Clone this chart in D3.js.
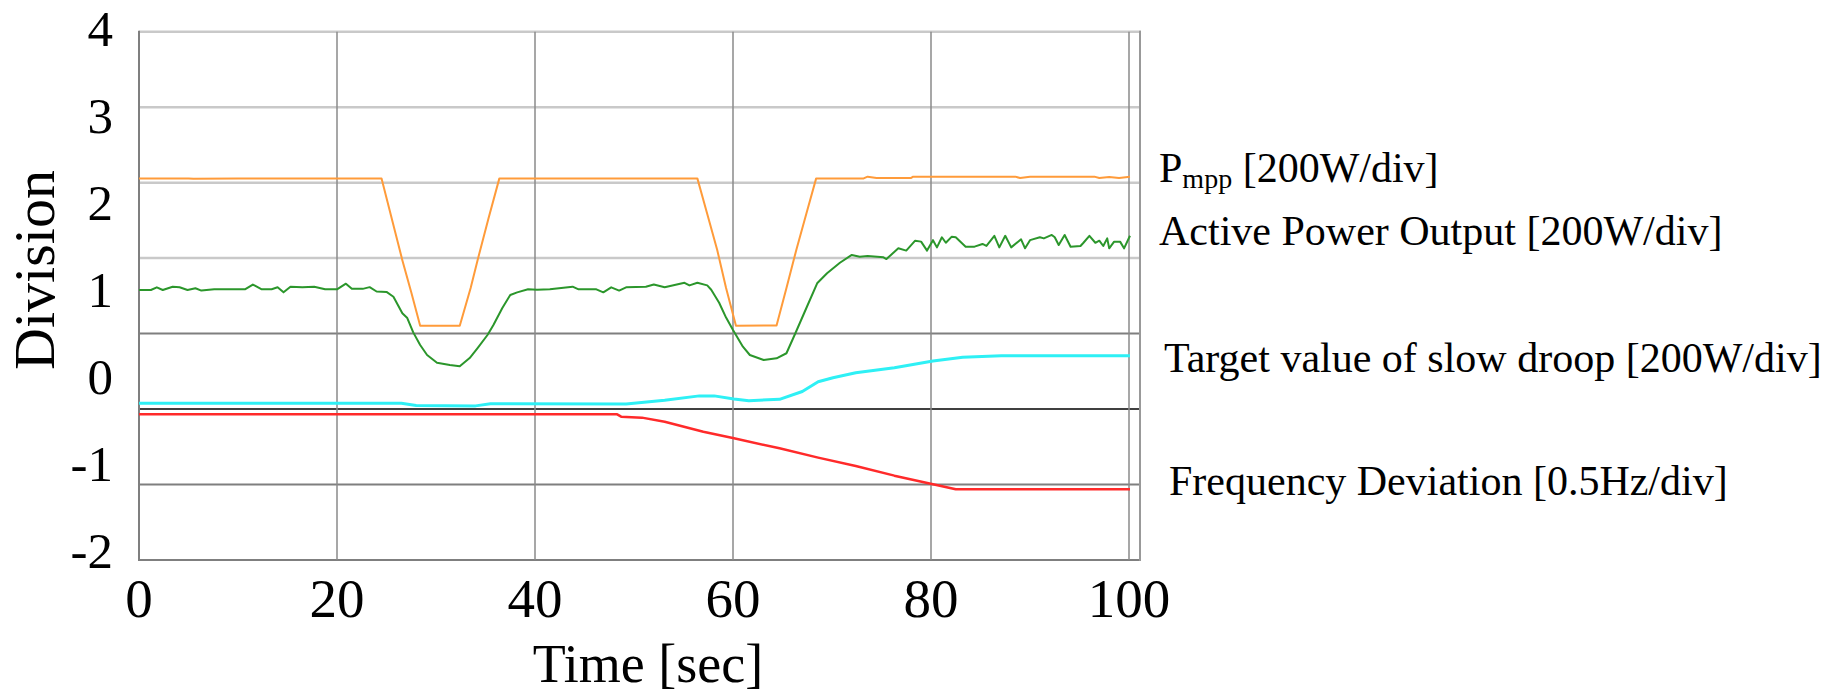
<!DOCTYPE html>
<html>
<head>
<meta charset="utf-8">
<script src="https://cdn.jsdelivr.net/npm/d3@7"></script>
<style>
  body { margin: 0; background: #ffffff; }
  text { font-family: "Liberation Serif", "Times New Roman", serif; fill: #000; }
</style>
</head>
<body>
<div id="chart"></div>
<script>
// time ticks [sec] and division labels
var xTicks = [0, 20, 40, 60, 80, 100];
var yTicks = [4, 3, 2, 1, 0, -1, -2];
var gridDivs = [0, 1, 2, 3, 4, 5, 6, 7];

// [time, division]
var pmpp = [
  [0, 2.26], [5, 2.26], [5.5, 2.255], [10, 2.26], [24.5, 2.26], [26.6, 1.32], [27.5, 0.95],
  [28.4, 0.565], [32.4, 0.565], [33.5, 1.0], [34.2, 1.32], [35.3, 1.8], [36.4, 2.26],
  [56.4, 2.26], [57.4, 1.85], [58.4, 1.44], [59.3, 1.0], [60.3, 0.565], [64.4, 0.57],
  [65.4, 1.0], [66.4, 1.44], [67.4, 1.85], [68.4, 2.26], [73.2, 2.26], [73.6, 2.28],
  [74.5, 2.265], [78, 2.265], [78.2, 2.28], [88.5, 2.28], [89, 2.265], [90, 2.28],
  [96.5, 2.28], [97, 2.265], [98, 2.275], [99, 2.265], [100.1, 2.28]
];

var activePower = [
  [0, 0.977], [1.2, 0.977], [1.8, 1.008], [2.4, 0.977], [3.4, 1.015], [4.1, 1.008], [4.9, 0.977],
  [5.7, 0.997], [6.3, 0.97], [7.6, 0.985], [9.2, 0.985], [10.7, 0.985], [11.5, 1.04], [12.4, 0.985],
  [13.4, 0.985], [14.0, 1.008], [14.6, 0.95], [15.3, 1.015], [16.5, 1.008], [17.7, 1.015],
  [18.8, 0.985], [20.0, 0.985], [20.9, 1.05], [21.5, 0.99], [22.6, 0.99], [23.3, 1.01],
  [24.0, 0.96], [25.0, 0.955], [25.7, 0.9], [26.6, 0.71], [27.1, 0.655], [27.7, 0.49],
  [28.4, 0.345], [29.1, 0.23], [30.1, 0.14], [31.4, 0.115], [32.4, 0.1], [33.4, 0.195],
  [34.2, 0.31], [35.2, 0.46], [35.8, 0.575], [36.7, 0.77], [37.5, 0.92], [38.2, 0.95],
  [39.3, 0.985], [40.2, 0.98], [41.5, 0.985], [43.8, 1.015], [44.4, 0.985], [46.2, 0.985],
  [46.9, 0.95], [47.7, 1.008], [48.5, 0.97], [49.2, 1.008], [51.2, 1.015], [52.0, 1.04],
  [53.1, 1.008], [55.1, 1.06], [55.6, 1.03], [56.4, 1.06], [57.4, 1.03], [57.8, 0.98],
  [58.6, 0.83], [59.3, 0.66], [60.0, 0.517], [61.0, 0.325], [61.7, 0.23], [63.1, 0.172],
  [64.4, 0.192], [65.4, 0.25], [66.3, 0.48], [67.4, 0.767], [68.5, 1.054], [69.5, 1.17],
  [70.8, 1.29], [72.0, 1.38], [72.8, 1.36], [73.6, 1.368], [75.2, 1.353], [75.5, 1.333],
  [76.7, 1.456], [77.5, 1.43], [78.4, 1.544], [79.0, 1.533], [79.6, 1.43], [80.2, 1.55],
  [80.6, 1.467], [81.1, 1.583], [81.5, 1.52], [82.1, 1.59], [82.5, 1.583], [83.5, 1.475],
  [84.4, 1.475], [85.2, 1.506], [85.6, 1.483], [86.4, 1.6], [86.9, 1.467], [87.5, 1.6],
  [88.1, 1.467], [89.1, 1.56], [89.5, 1.456], [90.0, 1.55], [91.0, 1.583], [91.4, 1.57],
  [92.2, 1.61], [92.5, 1.583], [92.9, 1.494], [93.5, 1.61], [94.1, 1.475], [95.1, 1.483],
  [95.4, 1.52], [96.0, 1.6], [96.6, 1.52], [97.0, 1.544], [97.4, 1.483], [97.8, 1.57],
  [98.0, 1.456], [98.5, 1.533], [99.1, 1.533], [99.5, 1.456], [100.1, 1.6]
];

var droopTarget = [
  [0, -0.325], [26.5, -0.325], [28, -0.35], [34, -0.355], [35.5, -0.33], [49.2, -0.333],
  [53.1, -0.29], [56.6, -0.24], [58.1, -0.24], [60.1, -0.276], [61.6, -0.295], [64.7, -0.28],
  [67.0, -0.19], [68.6, -0.077], [70.1, -0.031], [72.4, 0.026], [76.3, 0.084], [80.2, 0.161],
  [83.2, 0.203], [87.1, 0.222], [100.1, 0.222]
];

var freqDeviation = [
  [0, -0.452], [48.3, -0.452], [48.7, -0.479], [50.8, -0.49], [53.1, -0.537], [57, -0.652],
  [60.1, -0.728], [64.7, -0.843], [68.6, -0.95], [72.4, -1.046], [76.3, -1.157],
  [80.2, -1.256], [82.5, -1.314], [100.1, -1.314]
];

var seriesLabels = ["Active Power Output [200W/div]", "Target value of slow droop [200W/div]",
                    "Frequency Deviation [0.5Hz/div]"];

var width = 1838, height = 695;

var svg = d3.select("#chart").append("svg")
  .attr("width", width)
  .attr("height", height);

svg.append("rect")
  .attr("width", width)
  .attr("height", height)
  .style("fill", "#ffffff");

var x = d3.scaleLinear()
  .domain([0, 100])
  .range([139, 1129]);

// labelled division axis (data is read against these labels)
var y = d3.scaleLinear()
  .domain([-2, 4])
  .range([549, 27]);

// screen divisions of the grid
var gridY = d3.scaleLinear()
  .domain([0, 7])
  .range([560, 31.7]);

var xRight = 1140;

// horizontal grid
svg.selectAll("line.hgrid")
  .data(gridDivs).enter()
  .append("line")
  .attr("class", "hgrid")
  .attr("x1", x(0))
  .attr("x2", xRight + 1)
  .attr("y1", function(d) { return gridY(d); })
  .attr("y2", function(d) { return gridY(d); })
  .style("stroke", function(d) {
    if (d == 2) return "#000000";
    if (d <= 3) return "#7f7f7f";
    return "#c9c9c9";
  })
  .style("stroke-width", function(d) { return d == 2 ? 1.6 : (d <= 3 ? 2 : 2.5); });

// vertical grid
svg.selectAll("line.vgrid")
  .data(xTicks.slice(1)).enter()
  .append("line")
  .attr("class", "vgrid")
  .attr("x1", function(d) { return x(d); })
  .attr("x2", function(d) { return x(d); })
  .attr("y1", gridY(7))
  .attr("y2", gridY(0))
  .style("stroke", "#8a8a8a")
  .style("stroke-width", 1.5);

// frame left / right
svg.append("line")
  .attr("x1", x(0)).attr("x2", x(0))
  .attr("y1", gridY(7) - 1).attr("y2", gridY(0) + 1)
  .style("stroke", "#7f7f7f")
  .style("stroke-width", 2);

svg.append("line")
  .attr("x1", xRight).attr("x2", xRight)
  .attr("y1", gridY(7) - 1).attr("y2", gridY(0) + 1)
  .style("stroke", "#999999")
  .style("stroke-width", 2);

var line = d3.line()
  .x(function(d) { return x(d[0]); })
  .y(function(d) { return y(d[1]); });

var series = [
  {data: freqDeviation, color: "#ff2a2a", w: 2.5},
  {data: droopTarget, color: "#2ef0f5", w: 3},
  {data: pmpp, color: "#ff9b3a", w: 2},
  {data: activePower, color: "#2b962b", w: 2}
];

svg.selectAll("path.series")
  .data(series).enter()
  .append("path")
  .attr("class", "series")
  .attr("d", function(d) { return line(d.data); })
  .style("fill", "none")
  .style("stroke", function(d) { return d.color; })
  .style("stroke-width", function(d) { return d.w; })
  .style("stroke-linejoin", "round");

// y labels
svg.selectAll("text.ylab")
  .data(yTicks).enter()
  .append("text")
  .attr("class", "ylab")
  .attr("x", 113)
  .attr("y", function(d) { return y(d) + 19; })
  .style("text-anchor", "end")
  .style("font-size", "51px")
  .text(function(d) { return d; });

// x labels
svg.selectAll("text.xlab")
  .data(xTicks).enter()
  .append("text")
  .attr("class", "xlab")
  .attr("x", function(d) { return x(d); })
  .attr("y", 617)
  .style("text-anchor", "middle")
  .style("font-size", "55px")
  .text(function(d) { return d; });

svg.append("text")
  .attr("transform", "translate(54,270) rotate(-90)")
  .style("text-anchor", "middle")
  .style("font-size", "58px")
  .text("Division");

svg.append("text")
  .attr("x", 648)
  .attr("y", 682)
  .style("text-anchor", "middle")
  .style("font-size", "54px")
  .text("Time [sec]");

// series captions on the right
var pm = svg.append("text")
  .attr("x", 1159)
  .attr("y", 182)
  .style("font-size", "42px");
pm.append("tspan").text("P");
pm.append("tspan").attr("dy", 6).style("font-size", "28px").text("mpp");
pm.append("tspan").attr("dy", -6).text(" [200W/div]");

var capX = [1159, 1164, 1169],
    capY = [245, 372, 495];

svg.selectAll("text.cap")
  .data(seriesLabels).enter()
  .append("text")
  .attr("class", "cap")
  .attr("x", function(d, i) { return capX[i]; })
  .attr("y", function(d, i) { return capY[i]; })
  .style("font-size", "42px")
  .text(function(d) { return d; });
</script>
</body>
</html>
